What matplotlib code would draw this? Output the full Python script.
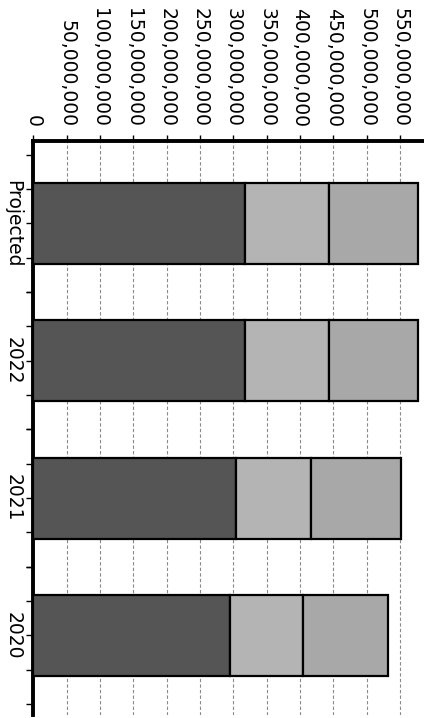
import matplotlib
matplotlib.use("Agg")
import matplotlib.pyplot as plt
from matplotlib.ticker import FuncFormatter, FixedLocator

categories = ["Projected", "2022", "2021", "2020"]
seg_dark = [318e6, 317e6, 304e6, 295e6]
seg_light = [126e6, 127e6, 113e6, 110e6]
seg_mid = [133e6, 133e6, 134e6, 127e6]
value_ticks = [0, 50e6, 100e6, 150e6, 200e6, 250e6, 300e6, 350e6, 400e6, 450e6, 500e6, 550e6]

fig = plt.figure(figsize=(4.24, 7.18), dpi=100)
ax = fig.add_axes([33.3/424, 3/718, (433.3-33.3)/424, (718-141-3)/718])

pos = list(range(len(categories)))
h = 0.59
ax.barh(pos, seg_dark, height=h, color="#555555", edgecolor="black", linewidth=1.6, zorder=3)
left2 = seg_dark
ax.barh(pos, seg_light, height=h, left=left2, color="#b4b4b4", edgecolor="black", linewidth=1.6, zorder=3)
left3 = [a + b for a, b in zip(seg_dark, seg_light)]
ax.barh(pos, seg_mid, height=h, left=left3, color="#a8a8a8", edgecolor="black", linewidth=1.6, zorder=3)

ax.set_xlim(0, 600e6)
ax.set_ylim(3.58, -0.6)

ax.xaxis.tick_top()
ax.xaxis.set_major_locator(FixedLocator(value_ticks))
ax.xaxis.set_major_formatter(FuncFormatter(lambda v, p: "{:,.0f}".format(v)))
ax.tick_params(axis="x", which="major", direction="out", length=4, width=1, pad=6,
               labelsize=13.5, labelrotation=-90, colors="black")
for lab in ax.get_xticklabels():
    lab.set_verticalalignment("bottom")

ax.set_yticks(pos)
ax.set_yticklabels(categories)
ax.yaxis.set_minor_locator(FixedLocator([p + d for p in pos for d in (-0.5, -0.25, 0.25, 0.5)]))
ax.tick_params(axis="y", which="both", direction="out", length=5, width=1, pad=3,
               labelsize=13.5, labelrotation=-90)
for lab in ax.get_yticklabels():
    lab.set_verticalalignment("center")

ax.grid(axis="x", linestyle=(0, (3, 2)), color="#8a8a8a", linewidth=0.8, zorder=0)

for s in ("right", "bottom"):
    ax.spines[s].set_visible(False)
for s in ("top", "left"):
    ax.spines[s].set_linewidth(2.8)
    ax.spines[s].set_color("black")

fig.savefig("out.png", dpi=100)
